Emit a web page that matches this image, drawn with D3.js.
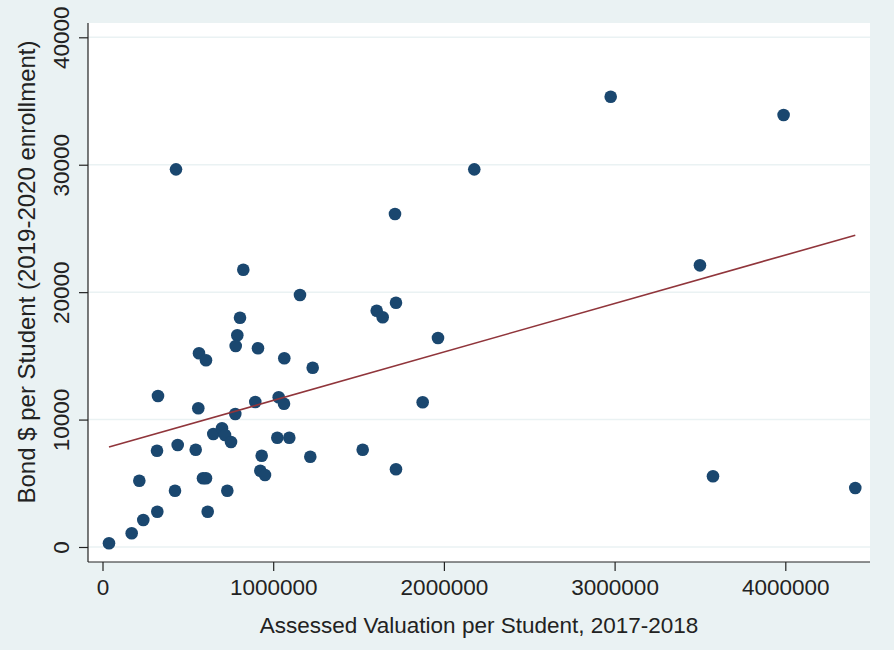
<!DOCTYPE html>
<html>
<head>
<meta charset="utf-8">
<script src="https://cdn.jsdelivr.net/npm/d3@7"></script>
<style>
  body { margin: 0; background: #eaf2f3; }
  svg { display: block; font-family: "Liberation Sans", Arial, sans-serif; }
  .grid line { stroke: #eaf2f3; stroke-width: 1.5; }
  .axis path, .axis line { stroke: #222; stroke-width: 1.2; }
  .axis text { fill: #222; font-size: 22.5px; }
</style>
</head>
<body>
<div id="chart"></div>
<script>
// assessed valuation per student, 2017-2018
var valuation = [
  38000, 171000, 239000, 321000, 215600, 424700, 588700, 606300, 616300, 731100,
  924400, 951900, 932600, 1217300, 1524200, 319300, 440500, 546000, 649100, 700000,
  717600, 752800, 1024000, 1094300, 777900, 895100, 1032200, 1063200, 325100, 561200,
  824800, 1156900, 805500, 789700, 780300, 910900, 565300, 606300, 1065000, 1231300,
  1713500, 1719300, 1606300, 1641400, 430600, 2178000, 1875700, 1719300, 1965400, 2977000,
  3990000, 3500000, 3576300, 4409900
];
// bond $ per student, 2019-2020 enrollment
var bondPerStudent = [
  290, 1075, 2119, 2770, 5203, 4418, 5391, 5391, 2770, 4418,
  5987, 5650, 7164, 7086, 7635, 7557, 8004, 7635, 8867, 9314,
  8789, 8239, 8577, 8577, 10437, 11378, 11747, 11245, 11849, 10884,
  21760, 19774, 17993, 16612, 15772, 15592, 15200, 14650, 14807, 14070,
  26130, 19170, 18542, 18025, 29638, 29638, 11355, 6097, 16400, 35335,
  33899, 22105, 5548, 4630
];
var xTicks = [0, 1000000, 2000000, 3000000, 4000000];
var yTicks = [0, 10000, 20000, 30000, 40000];

var width = 894, height = 650;
var plot = { left: 88, right: 870, top: 23, bottom: 562 };

var svg = d3.select('#chart').append('svg')
  .attr('width', width)
  .attr('height', height);

svg.append('rect')
  .attr('width', width).attr('height', height)
  .attr('fill', '#eaf2f3');

svg.append('rect')
  .attr('x', plot.left).attr('y', plot.top)
  .attr('width', plot.right - plot.left)
  .attr('height', plot.bottom - plot.top)
  .attr('fill', '#fff');

var x = d3.scaleLinear().domain([0, 4000000]).range([102.5, 785.3]);
var y = d3.scaleLinear().domain([0, 40000]).range([547, 37.3]);

// horizontal grid
svg.append('g').attr('class', 'grid')
  .selectAll('line')
  .data(yTicks)
  .enter().append('line')
  .attr('x1', plot.left).attr('x2', plot.right)
  .attr('y1', function (d) { return y(d); })
  .attr('y2', function (d) { return y(d); });

// linear fit (OLS on the points)
var n = valuation.length;
var mx = d3.mean(valuation), my = d3.mean(bondPerStudent);
var sxy = 0, sxx = 0;
for (var i = 0; i < n; i++) {
  sxy += (valuation[i] - mx) * (bondPerStudent[i] - my);
  sxx += (valuation[i] - mx) * (valuation[i] - mx);
}
var slope = sxy / sxx;
var intercept = my - slope * mx;
var xr = d3.extent(valuation);

svg.append('g')
  .selectAll('circle')
  .data(valuation)
  .enter().append('circle')
  .attr('cx', function (d) { return x(d); })
  .attr('cy', function (d, i) { return y(bondPerStudent[i]); })
  .attr('r', 6.3)
  .attr('fill', '#1a476f');

svg.append('line')
  .attr('x1', x(xr[0])).attr('y1', y(intercept + slope * xr[0]))
  .attr('x2', x(xr[1])).attr('y2', y(intercept + slope * xr[1]))
  .attr('stroke', '#90353b')
  .attr('stroke-width', 1.6);

// axes
var xAxis = svg.append('g').attr('class', 'axis')
  .attr('transform', 'translate(0,' + plot.bottom + ')')
  .call(d3.axisBottom(x).tickValues(xTicks).tickFormat(d3.format('d')).tickSize(9).tickSizeOuter(0));
xAxis.select('.domain').attr('d', 'M' + plot.left + ',0H' + plot.right);
xAxis.selectAll('text').attr('dy', null).attr('y', 27).attr('dominant-baseline', 'middle');

var yAxis = svg.append('g').attr('class', 'axis')
  .attr('transform', 'translate(' + plot.left + ',0)')
  .call(d3.axisLeft(y).tickValues(yTicks).tickFormat(d3.format('d')).tickSize(9).tickSizeOuter(0));
yAxis.select('.domain').attr('d', 'M0,' + plot.top + 'V' + plot.bottom);
yAxis.selectAll('.tick text')
  .attr('x', null).attr('dy', null)
  .attr('text-anchor', 'middle')
  .attr('dominant-baseline', 'middle')
  .attr('transform', 'translate(-25,0) rotate(-90)');

svg.append('text')
  .attr('x', 479)
  .attr('y', 627)
  .attr('text-anchor', 'middle')
  .attr('dominant-baseline', 'middle')
  .attr('font-size', 22.5)
  .attr('fill', '#222')
  .text('Assessed Valuation per Student, 2017-2018');

svg.append('text')
  .attr('transform', 'translate(29,272) rotate(-90)')
  .attr('text-anchor', 'middle')
  .attr('dominant-baseline', 'middle')
  .attr('font-size', 24)
  .attr('fill', '#222')
  .text('Bond $ per Student (2019-2020 enrollment)');
</script>
</body>
</html>
